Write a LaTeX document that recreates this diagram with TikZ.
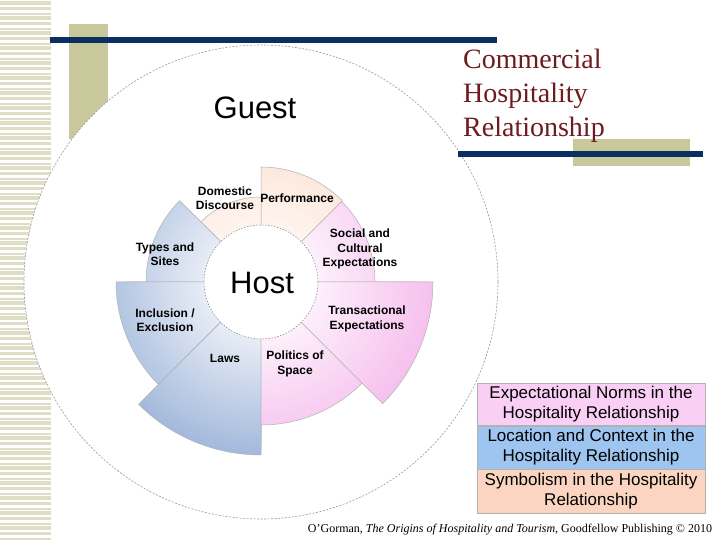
\documentclass[tikz,border=0pt]{standalone}
\usepackage{fontspec}
\setmainfont{Liberation Serif}
\newfontfamily\arialfont{Liberation Sans}
\usetikzlibrary{math}

\definecolor{navyline}{HTML}{0B2F5E}
\definecolor{olivebar}{HTML}{C9C79C}
\definecolor{stripecol}{HTML}{DEDDC6}
\definecolor{titlered}{HTML}{6E1A1E}
\definecolor{bluein}{HTML}{E8EDF6}
\definecolor{blueout}{HTML}{A4BADC}
\definecolor{pinkin}{HTML}{FDF0FB}
\definecolor{pinkout}{HTML}{F6C0EE}
\definecolor{peachin}{HTML}{FEF5EF}
\definecolor{peachout}{HTML}{FADDCB}
\definecolor{legendpink}{HTML}{FACFF5}
\definecolor{legendblue}{HTML}{9EC4F0}
\definecolor{legendpeach}{HTML}{FBD5C1}

\tikzset{
  sectorlabel/.style={font=\arialfont\fontsize{12}{14.5}\selectfont\bfseries, align=center, inner sep=0pt},
  sectoredge/.style={draw=gray!60, line width=0.5pt},
  ringline/.style={draw=gray!80, line width=0.6pt, dash pattern=on 2pt off 1.5pt},
  legendbox/.style={draw=gray!60, line width=0.6pt, minimum width=228pt, inner sep=0pt, align=center,
    font=\arialfont\fontsize{17}{20}\selectfont},
}

% start angle, end angle, outer radius, inner colour, outer colour
\newcommand{\guestsector}[5]{%
  \tikzmath{\nb = int(ceil((#3-\Rhost)/3));}
  \foreach \i in {0,...,\nb}{
    \pgfmathsetmacro\rr{#3-3*\i}
    \pgfmathtruncatemacro\pc{max(0,min(100,100*(\rr-\Rhost)/(\Rmax-\Rhost)))}
    \fill[#5!\pc!#4] (0,0) -- (#1:\rr) arc[start angle=#1, end angle=#2, radius=\rr] -- cycle;
  }
  \draw[sectoredge] (0,0) -- (#1:#3) arc[start angle=#1, end angle=#2, radius=#3] -- cycle;
}

\begin{document}
\begin{tikzpicture}[x=1pt, y=1pt]
\tikzmath{
\Rhost=57;
\Rmax=173;
\Rguest=237;
}
\useasboundingbox (0,0) rectangle (720,540);
\fill[white] (0,0) rectangle (720,540);

% striped margin
\foreach \i in {0,...,107}{
  \pgfmathsetmacro\h{1.5+mod(\i*7,3)}
  \fill[stripecol] (0,5*\i) rectangle (51,5*\i+\h);
}
\fill[olivebar] (69,401) rectangle (108,516);

% guest ring
\filldraw[fill=white, ringline] (261,258) circle (\Rguest);

\draw[navyline, line width=6pt] (50,500) -- (497,500);
\fill[olivebar] (573,374) rectangle (690,401);
\draw[navyline, line width=6pt] (458,386) -- (703,386);

\begin{scope}[shift={(261,258)}]
\guestsector{0}{45}{114}{pinkin}{pinkout}
\guestsector{45}{90}{115}{peachin}{peachout}
\guestsector{90}{135}{85}{peachin}{peachout}
\guestsector{135}{180}{115}{bluein}{blueout}
\guestsector{180}{225}{145}{bluein}{blueout}
\guestsector{225}{270}{173}{bluein}{blueout}
\guestsector{270}{315}{143}{pinkin}{pinkout}
\guestsector{315}{360}{172}{pinkin}{pinkout}
\filldraw[fill=white, draw=gray, line width=0.5pt, dash pattern=on 1.5pt off 1.5pt] (0,0) circle (\Rhost);
\end{scope}

\node[font=\arialfont\fontsize{31}{31}\selectfont, inner sep=0pt] (host) at (262,257) {Host};
\node[font=\arialfont\fontsize{31}{31}\selectfont, inner sep=0pt] (guest) at (255,432) {Guest};

\node[sectorlabel] (domestic) at (225,342) {Domestic\\Discourse};
\node[sectorlabel] (performance) at (297,342) {Performance};
\node[sectorlabel] (social) at (360,291) {Social and\\Cultural\\Expectations};
\node[sectorlabel] (types) at (165,286) {Types and\\Sites};
\node[sectorlabel] (inclusion) at (165,220) {Inclusion /\\Exclusion};
\node[sectorlabel] (transactional) at (367,221) {Transactional\\Expectations};
\node[sectorlabel] (laws) at (225,182) {Laws};
\node[sectorlabel] (politics) at (295,176) {Politics of\\Space};

\node[anchor=north west, align=left, text=titlered, font=\fontsize{28}{34}\selectfont, inner sep=0pt] (title) at (463,491)
  {Commercial\\Hospitality\\Relationship};

\node[legendbox, fill=legendpink, minimum height=42pt, anchor=north] (normsbox) at (591,157)
  {Expectational Norms in the\\Hospitality Relationship};
\node[legendbox, fill=legendblue, minimum height=43pt, anchor=north] (locationbox) at (normsbox.south)
  {Location and Context in the\\Hospitality Relationship};
\node[legendbox, fill=legendpeach, minimum height=44pt, anchor=north] (symbolbox) at (locationbox.south)
  {Symbolism in the Hospitality\\Relationship};

\node[font=\fontsize{12}{14}\selectfont, inner sep=0pt] (source) at (510,10)
  {O’Gorman, \textit{The Origins of Hospitality and Tourism}, Goodfellow Publishing © 2010};
\end{tikzpicture}
\end{document}
